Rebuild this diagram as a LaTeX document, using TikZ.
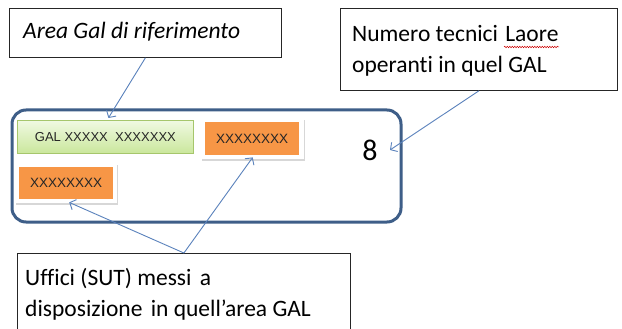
\documentclass[tikz,border=0pt]{standalone}
\usepackage{fontspec}
\setmainfont[RawFeature=-liga]{Carlito}
\newfontfamily\arialf{Liberation Sans}
\usetikzlibrary{arrows.meta,shadows,decorations.pathmorphing,calc}
\definecolor{connc}{HTML}{5A82BC}
\definecolor{mainb}{HTML}{3E5E88}
\definecolor{galb}{HTML}{A6C66C}
\definecolor{galtop}{HTML}{F0F9E2}
\definecolor{galbot}{HTML}{CAE79C}
\definecolor{orng}{HTML}{F79646}
\begin{document}
\begin{tikzpicture}[x=1pt,y=-1pt,
  callout/.style={draw=black!85, line width=0.8pt, fill=white, inner sep=0pt, anchor=north west},
  bigtxt/.style={inner sep=0pt, anchor=north west, align=left, font=\fontsize{23.5}{31}\selectfont},
  conn/.style={draw=connc, line width=0.9pt, -{Straight Barb[length=5pt,width=11pt]}},
  frame/.style={fill=white, inner sep=0pt, anchor=north west, drop shadow={shadow xshift=1.2pt, shadow yshift=-2pt, opacity=0.22, fill=black!70}},
  orbox/.style={fill=orng, inner sep=0pt, anchor=north west, font=\arialf\fontsize{13.5}{15}\selectfont, text=black!85},
  galbox/.style={draw=galb, line width=0.8pt, top color=galtop, bottom color=galbot, inner sep=0pt, anchor=north west, font=\arialf\fontsize{13}{15}\selectfont, text=black!85}
]
\useasboundingbox (0,0) rectangle (622,329);
\fill[white] (0,0) rectangle (622,329);

% callout boxes
\node[callout, minimum width=272pt, minimum height=49pt] (area) at (9,8) {};
\node[bigtxt, font=\fontsize{23.5}{31}\selectfont\itshape] (areatxt) at (23,22) {Area Gal di riferimento};

\node[callout, minimum width=277pt, minimum height=82pt] (num) at (340,8) {};
\node[bigtxt] (numtxt) at (352,25) {Numero tecnici\hspace{2pt} Laore\\operanti in quel GAL};
\draw[red!80!black, line width=0.5pt, decorate, decoration={snake, amplitude=0.7pt, segment length=2.5pt}] (504,47) -- (559,47);

\begin{scope}
\clip (0,0) rectangle (622,329);
\node[callout, minimum width=333pt, minimum height=90pt] (sut) at (17,253) {};
\end{scope}
\node[bigtxt] (suttxt) at (25,268) {Uffici (SUT) messi\hspace{3pt} a\\disposizione\hspace{3pt} in quell’area GAL};

% main rounded box
\node[draw=mainb, line width=3pt, rounded corners=14pt, inner sep=0pt, anchor=north west,
      minimum width=389pt, minimum height=112pt] (main) at (10.5,108.5) {};

\node[galbox, minimum width=176pt, minimum height=33pt] (gal) at (17,120) {GAL XXXXX\ \ XXXXXXX};

\node[frame, minimum width=103pt, minimum height=41pt] (frR) at (201,118) {};
\node[orbox, minimum width=94pt, minimum height=33pt] (orR) at (205,122) {XXXXXXXX};

\node[frame, minimum width=102pt, minimum height=40pt] (frL) at (15,163) {};
\node[orbox, minimum width=94pt, minimum height=32pt] (orL) at (19,167) {XXXXXXXX};

\node[inner sep=0pt, font=\fontsize{30}{34}\selectfont] (eight) at (370,150) {8};
\coordinate (tip8) at (390,150);

% connectors
\draw[conn] (area.south) -- ($(gal.north)+(3,-2)$);
\draw[conn] (num.south) -- (tip8);
\draw[conn] (sut.north) -- ($(frL.south)+(3,-1)$);
\draw[conn] (sut.north) -- ($(frR.south)+(0,-2)$);
\end{tikzpicture}
\end{document}
